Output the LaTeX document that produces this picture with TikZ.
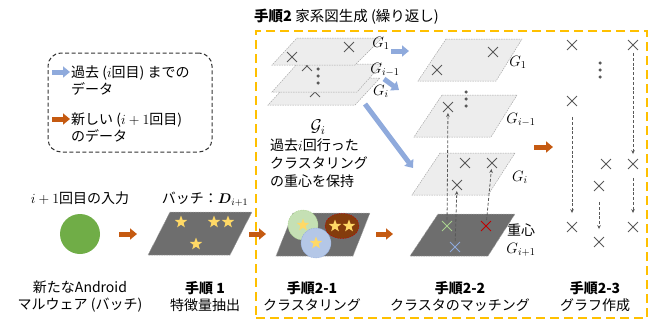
\RequirePackage{fix-cm}
\documentclass[tikz,border=0pt]{standalone}
\usepackage{amsmath}
\usepackage{fontspec}
\setmainfont{Noto Sans CJK JP}
\usetikzlibrary{shapes.geometric,shapes.misc,arrows.meta}
\definecolor{boxor}{HTML}{FFC000}
\definecolor{arror}{HTML}{C55A11}
\definecolor{arrbl}{HTML}{8FAADC}
\definecolor{grn}{HTML}{70AD47}
\definecolor{darkpl}{HTML}{6E6E6E}
\definecolor{lightpl}{HTML}{EDEDED}
\definecolor{plline}{HTML}{A6A6A6}
\definecolor{crossg}{HTML}{595959}
\definecolor{staryl}{HTML}{FFD966}
\definecolor{brn}{HTML}{843C0C}
\definecolor{lgrn}{HTML}{C5E0B4}
\definecolor{lblu}{HTML}{B4C7E7}
\definecolor{crossr}{HTML}{C00000}
\definecolor{crossgr}{HTML}{A9D18E}
\definecolor{crossb}{HTML}{8FAADC}
\tikzset{
  txt/.style={font=\fontsize{14}{17}\selectfont, inner sep=0pt, align=center},
  lbl/.style={font=\fontsize{15}{17}\selectfont, inner sep=0pt},
  xm/.style={draw=#1, cross out, minimum size=9pt, inner sep=0pt, line width=0.9pt},
  xm/.default=crossg,
  darr/.style={draw=crossg, dash pattern=on 3pt off 1.8pt, line width=0.8pt, -{Stealth[length=4pt,width=3.5pt]}},
  barr/.style={draw=#1, line width=5pt, -{Triangle[length=7pt,width=11pt]}},
  darkplane/.style={fill=darkpl, draw=plline, dash pattern=on 1.5pt off 1pt, line width=0.5pt},
  lightplane/.style={fill=lightpl, draw=plline, dash pattern=on 1.5pt off 1pt, line width=0.5pt},
  starn/.style={star, star points=5, star point ratio=2.4, fill=staryl, minimum size=13pt, inner sep=0pt},
  dotn/.style={circle, fill=crossg, minimum size=3.5pt, inner sep=0pt},
}
\begin{document}
\begin{tikzpicture}[x=1pt,y=-1pt]
\useasboundingbox (0,0) rectangle (652,322);

% title
\node[txt, anchor=west, font=\fontsize{14.5}{17}\selectfont] (title) at (254,17) {\textbf{手順2} 家系図生成 (繰り返し)};
% orange dashed box
\node[draw=boxor, line width=2pt, dash pattern=on 9pt off 5pt, minimum width=391pt, minimum height=287pt, inner sep=0pt] (step2box) at (451.5,174.5) {};

% legend
\node[draw=black!80, line width=1pt, dash pattern=on 4pt off 2.5pt, rounded corners=13pt, minimum width=164pt, minimum height=99pt, inner sep=0pt] (legend) at (130,102.5) {};
\coordinate (lb1) at (52,72); \coordinate (lb2) at (70,72);
\coordinate (lo1) at (52,119); \coordinate (lo2) at (70,119);
\draw[barr=arrbl] (lb1) -- (lb2);
\draw[barr=arror] (lo1) -- (lo2);
\node[txt, anchor=west, align=left] (legold) at (71,80.5) {過去 ($i$回目) までの\\データ};
\node[txt, anchor=west, align=left] (legnew) at (71,128) {新しい ($i+1$回目)\\のデータ};

% input
\node[txt] (inlbl) at (80,198) {$i+1$回目の入力};
\node[circle, fill=grn, minimum size=40pt, inner sep=0pt] (mal) at (80,234) {};
\node[txt] (mallbl) at (80,296.5) {新たなAndroid\\マルウェア (バッチ)};
\coordinate (oa1s) at (119,234); \coordinate (oa1e) at (137,234);
\draw[barr=arror] (oa1s) -- (oa1e);

% step 1
\node[txt] (batchlbl) at (205,199) {バッチ：$\boldsymbol{D}_{i+1}$};
\filldraw[darkplane] (170,212) -- (252,212) -- (230,255) -- (148,255) -- cycle;
\node[starn] (s1) at (181,222) {};
\node[starn] (s2) at (214,222) {};
\node[starn] (s3) at (228,222) {};
\node[starn] (s4) at (196,244) {};
\node[txt] (st1lbl) at (205,296.5) {\textbf{手順 1}\\特徴量抽出};
\coordinate (oa2s) at (249,234); \coordinate (oa2e) at (266,234);
\draw[barr=arror] (oa2s) -- (oa2e);

% step 2-1
\filldraw[darkplane] (293,213) -- (370,213) -- (353,256) -- (276,256) -- cycle;
\node[circle, fill=lgrn, draw=crossgr, dash pattern=on 1.5pt off 1pt, minimum size=30pt, inner sep=0pt] (c1) at (303,225) {};
\node[circle, fill=lblu, draw=arrbl, dash pattern=on 1.5pt off 1pt, minimum size=30pt, inner sep=0pt] (c2) at (316,243) {};
\node[ellipse, fill=brn, draw=crossr, dash pattern=on 1.5pt off 1pt, minimum width=34pt, minimum height=25pt, inner sep=0pt] (c3) at (342,226) {};
\node[starn] (s5) at (303,225) {};
\node[starn] (s6) at (316,243) {};
\node[starn] (s7) at (335,226) {};
\node[starn] (s8) at (349,226) {};
\node[txt] (st21lbl) at (312,296.5) {\textbf{手順2-1}\\クラスタリング};
\coordinate (oa3s) at (376,234); \coordinate (oa3e) at (393,234);
\draw[barr=arror] (oa3s) -- (oa3e);

% left stack of past planes
\filldraw[lightplane] (293,78) -- (380,78) -- (355,105) -- (268,105) -- cycle;
\node[xm] (lx3) at (315,92) {};
\filldraw[lightplane] (297,64) -- (382,64) -- (357,92) -- (272,92) -- cycle;
\node[xm] (lx2) at (307,66) {};
\filldraw[lightplane] (297,38) -- (382,38) -- (355,65) -- (272,65) -- cycle;
\node[xm] (lx1a) at (349,47) {};
\node[xm] (lx1b) at (292,57) {};
\node[dotn] (ld1) at (318,69) {};
\node[dotn] (ld2) at (318,76) {};
\node[dotn] (ld3) at (318,83) {};
\node[lbl] (lg1) at (381,43) {$G_1$};
\node[lbl] (lg2) at (385,70) {$G_{i-1}$};
\node[lbl] (lg3) at (381,91) {$G_i$};
\coordinate (ba1s) at (391,51); \coordinate (ba1e) at (409,51);
\draw[barr=arrbl] (ba1s) -- (ba1e);
\coordinate (ba2s) at (384,79); \coordinate (ba2e) at (399,90);
\draw[barr=arrbl] (ba2s) -- (ba2e);
\coordinate (ba3s) at (365,104); \coordinate (ba3e) at (413,168);
\draw[barr=arrbl] (ba3s) -- (ba3e);
\node[txt, font=\fontsize{17}{18}\selectfont] (calG) at (318,127) {$\mathcal{G}_i$};
\node[txt, anchor=north west, align=left, font=\fontsize{14}{18}\selectfont] (gdesc) at (270,139) {過去$i$回行った\\クラスタリング\\の重心を保持};

% step 2-2 planes
\filldraw[lightplane] (446,39) -- (522,39) -- (496,81) -- (418,81) -- cycle;
\node[xm] (p1a) at (493,52) {};
\node[xm] (p1b) at (437,70) {};
\filldraw[lightplane] (442,95) -- (517,95) -- (491,137) -- (414,137) -- cycle;
\node[xm] (p2a) at (448,107) {};
\node[dotn] (pd1) at (466,92) {};
\node[dotn] (pd2) at (466,99) {};
\node[dotn] (pd3) at (466,106) {};
\filldraw[lightplane] (440,153) -- (515,153) -- (488,195) -- (412,195) -- cycle;
\node[xm] (p3a) at (465,163) {};
\node[xm] (p3b) at (492,163) {};
\node[xm] (p3c) at (457,185) {};
\filldraw[darkplane] (438,214) -- (515,214) -- (488,256) -- (410,256) -- cycle;
\node[xm=crossgr] (cg) at (447,226) {};
\node[xm=crossr] (cr) at (486,226) {};
\node[xm=crossb] (cb) at (455,247) {};
\draw[darr, shorten <=1pt, shorten >=1pt] (cg) -- (p2a);
\draw[darr, shorten <=1pt, shorten >=1pt] (cb) -- (p3c);
\draw[darr, shorten <=1pt, shorten >=1pt] (cr) -- (p3b);
\node[lbl] (pg1) at (518,62) {$G_1$};
\node[lbl] (pg2) at (521,120) {$G_{i-1}$};
\node[lbl] (pg3) at (520,177) {$G_i$};
\node[txt] (cent) at (521,230) {重心};
\node[lbl] (pg4) at (521,250) {$G_{i+1}$};
\node[txt] (st22lbl) at (460,296.5) {\textbf{手順2-2}\\クラスタのマッチング};
\coordinate (oa4s) at (534,147); \coordinate (oa4e) at (553,147);
\draw[barr=arror] (oa4s) -- (oa4e);

% step 2-3 graph
\node[xm] (q1) at (572,45) {};
\node[xm] (q2) at (633,45) {};
\node[dotn] (qd1) at (600,63) {};
\node[dotn] (qd2) at (600,70) {};
\node[dotn] (qd3) at (600,77) {};
\node[xm] (q3) at (572,101) {};
\node[xm] (q4) at (606,164) {};
\node[xm] (q5) at (633,164) {};
\node[xm] (q6) at (599,186) {};
\node[xm] (q7) at (572,227) {};
\node[xm] (q8) at (633,227) {};
\node[xm] (q9) at (599,242) {};
\draw[darr, shorten <=11pt, shorten >=9pt] (q3) -- (q7);
\draw[darr, shorten <=3pt, shorten >=5pt] (q2) -- (q5);
\draw[darr, shorten <=9pt, shorten >=9pt] (q5) -- (q8);
\draw[darr, shorten <=11pt, shorten >=8pt] (q6) -- (q9);
\node[txt] (st23lbl) at (595,296.5) {\textbf{手順2-3}\\グラフ作成};
\end{tikzpicture}
\end{document}
